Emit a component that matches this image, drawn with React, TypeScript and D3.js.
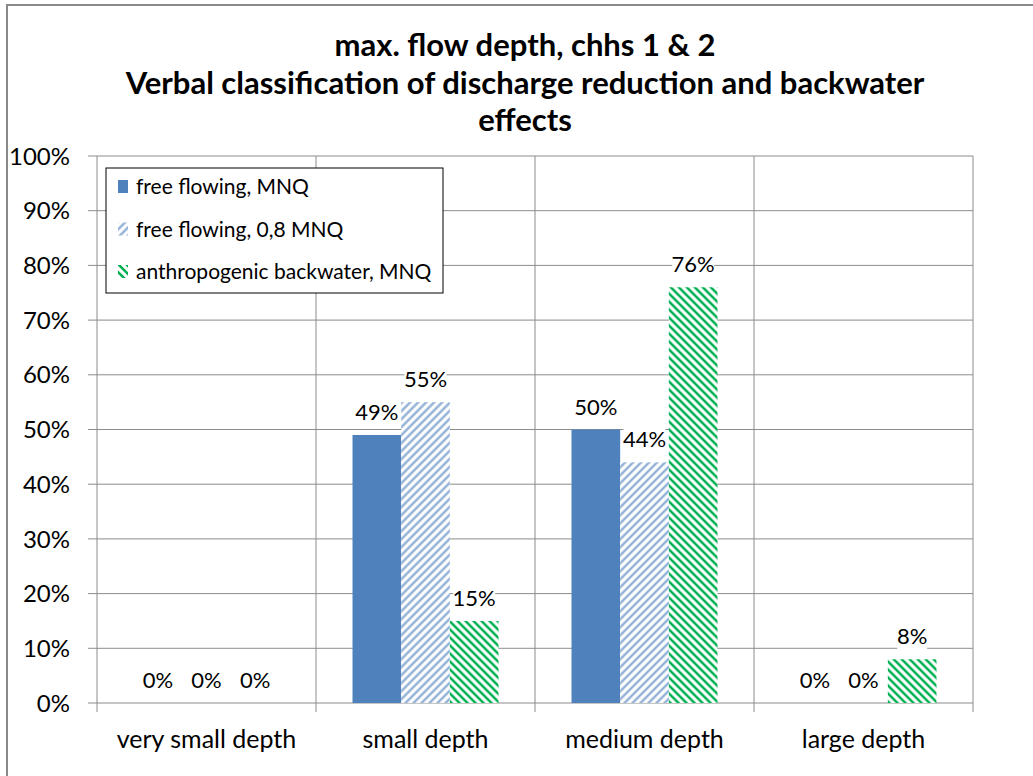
import React from 'react';
import * as d3 from 'd3';

// categories and series
const categories = ['very small depth', 'small depth', 'medium depth', 'large depth'];
const seriesNames = ['free flowing, MNQ', 'free flowing, 0,8 MNQ', 'anthropogenic backwater, MNQ'];
const freeFlowing = [0, 49, 50, 0];
const freeFlowing08 = [0, 55, 44, 0];
const backwater = [0, 15, 76, 8];
const yTicks = [0, 10, 20, 30, 40, 50, 60, 70, 80, 90, 100];
const titleLines = [
  'max. flow depth, chhs 1 & 2',
  'Verbal classification of discharge reduction and backwater',
  'effects',
];

const FONT = 'Lato, "Open Sans", sans-serif';
const GRID = '#8c8c8c';

const width = 1033;
const height = 776;
const margin = { top: 156, right: 60, bottom: 73, left: 97 };
const innerWidth = 973 - margin.left;
const innerHeight = 703 - margin.top;

const App: React.FC = () => {
  const seriesValues = [freeFlowing, freeFlowing08, backwater];
  const fills = ['#4F81BD', 'url(#hatchBlue)', 'url(#hatchGreen)'];

  // Excel style: gap width 150% between groups of 3 bars
  const x0 = d3.scaleBand<string>()
    .domain(categories)
    .range([0, innerWidth])
    .paddingInner(0)
    .paddingOuter(0);

  const step = x0.step();
  const barW = step / 4.5;
  const x1 = d3.scaleBand<number>()
    .domain([0, 1, 2])
    .range([0, barW * 3]);

  const y = d3.scaleLinear().domain([0, 100]).range([innerHeight, 0]);

  return (
    <svg width={width} height={height} style={{ position: 'absolute', left: 0, top: 0 }} fontFamily={FONT}>
      <defs>
        <pattern id="hatchBlue" patternUnits="userSpaceOnUse" width="8" height="8">
          <rect width="8" height="8" fill="#fff" />
          <path d="M-2,2 l4,-4 M0,8 l8,-8 M6,10 l4,-4" stroke="#95B3D7" strokeWidth="2.5" />
        </pattern>
        <pattern id="hatchGreen" patternUnits="userSpaceOnUse" width="8" height="8">
          <rect width="8" height="8" fill="#fff" />
          <path d="M-2,6 l4,4 M0,0 l8,8 M6,-2 l4,4" stroke="#00B050" strokeWidth="2.5" />
        </pattern>
      </defs>

      <rect x={0} y={0} width={width} height={height} fill="#fff" />
      {/* chart border */}
      <rect x={7} y={5} width={width + 20} height={height + 20} fill="none" stroke="#898989" strokeWidth={2} />

      {/* title */}
      {titleLines.map((t, i) => (
        <text key={i} x={525} y={56 + i * 37.5} textAnchor="middle" fontSize={31} fontWeight="bold" fill="#000">
          {t}
        </text>
      ))}

      <g transform={`translate(${margin.left},${margin.top})`}>
        {/* horizontal grid + y ticks */}
        {yTicks.map(t => (
          <g key={t}>
            <line x1={-9} x2={innerWidth} y1={y(t)} y2={y(t)} stroke={GRID} strokeWidth={1} />
            <text x={-27} y={y(t)} dy="0.36em" textAnchor="end" fontSize={24} fill="#000">{`${t}%`}</text>
          </g>
        ))}
        {/* y axis line */}
        <line x1={0} x2={0} y1={0} y2={innerHeight + 9} stroke={GRID} />
        {/* category dividers */}
        {categories.map(c => (
          <line key={c} x1={(x0(c) || 0) + step} x2={(x0(c) || 0) + step} y1={0} y2={innerHeight + 9} stroke={GRID} />
        ))}
        {/* category labels */}
        {categories.map(c => (
          <text key={c} x={(x0(c) || 0) + step / 2} y={innerHeight + 45} textAnchor="middle" fontSize={25} fill="#000">
            {c}
          </text>
        ))}

        {/* bars */}
        {categories.map((c, ci) => {
          const gx = (x0(c) || 0) + barW * 0.75;
          return (
            <g key={c} transform={`translate(${gx},0)`}>
              {seriesValues.map((vals, si) => {
                const v = vals[ci];
                const bx = x1(si) || 0;
                const top = y(v);
                const label = `${v}%`;
                const lw = label.length * 12 + 6;
                return (
                  <g key={si}>
                    {v > 0 && (
                      <rect x={bx} y={top} width={x1.bandwidth()} height={innerHeight - top} fill={fills[si]} />
                    )}
                    <rect x={bx + x1.bandwidth() / 2 - lw / 2} y={top - 35} width={lw} height={25} fill="#fff" />
                    <text x={bx + x1.bandwidth() / 2} y={top - 15} textAnchor="middle" fontSize={22} fill="#000">
                      {label}
                    </text>
                  </g>
                );
              })}
            </g>
          );
        })}

        {/* legend */}
        <g transform="translate(9,12)">
          <rect x={0} y={0} width={337} height={125} fill="#fff" stroke="#000" strokeWidth={1} />
          {seriesNames.map((s, i) => (
            <g key={s} transform={`translate(12,${19 + i * 42.5})`}>
              <rect x={0} y={-7} width={10} height={13} fill={fills[i]} />
              <text x={18} y={0} dy="0.35em" fontSize={21} fill="#000">{s}</text>
            </g>
          ))}
        </g>
      </g>
    </svg>
  );
};

export default App;
